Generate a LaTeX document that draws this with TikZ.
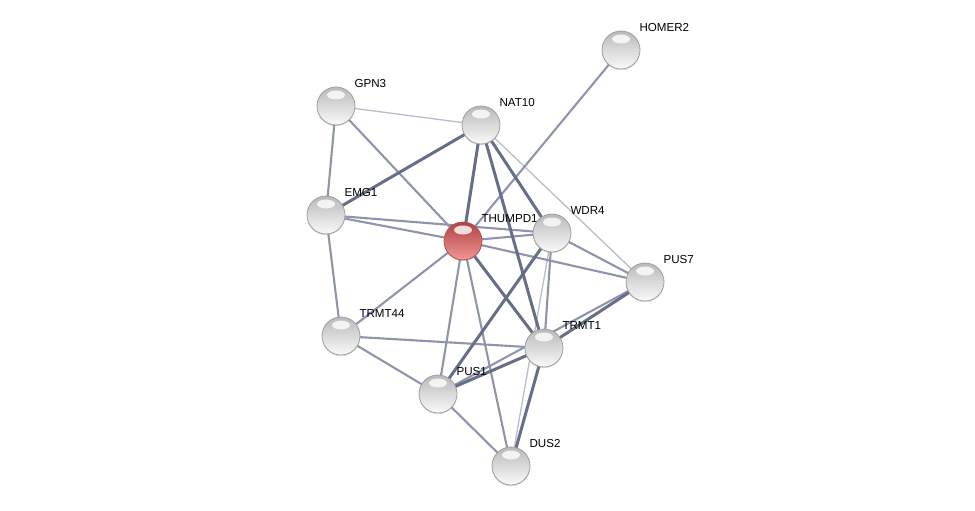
\documentclass[tikz,border=0pt]{standalone}
\usepackage{fontspec}
\setmainfont{Liberation Sans}
\usepackage{xcolor}
\usetikzlibrary{backgrounds, shadows}

\definecolor{edgethin}{RGB}{184,188,204}
\definecolor{edgemid}{RGB}{142,148,172}
\definecolor{edgethick}{RGB}{102,110,138}
\definecolor{redtop}{RGB}{176,66,66}
\definecolor{redmid}{RGB}{214,104,104}
\definecolor{redlow}{RGB}{242,150,150}

\begin{document}
\begin{tikzpicture}[
    x=1pt, y=-1pt,
    gene/.style = {
        circle,
        minimum size=38pt,
        inner sep=0pt,
        draw=gray!75,
        line width=0.8pt,
        top color=gray!55,
        middle color=gray!22,
        bottom color=gray!4,
        drop shadow={opacity=0.25, shadow xshift=0pt, shadow yshift=-1.2pt},
        path picture={
            \fill[white, opacity=0.8] ([yshift=11pt]path picture bounding box.center)
                ellipse (9pt and 4.5pt);
        }
    },
    seed/.style = {gene, draw=red!35!gray,
        top color=redtop, middle color=redmid, bottom color=redlow},
    lbl/.style = {font=\fontsize{11.6}{13}\selectfont, inner sep=0pt},
    tag/.style = {label={[lbl, label distance=6.5pt]above right:#1}},
    weak/.style = {line width=1.3pt, edgethin},
    mid/.style = {line width=2.1pt, edgemid},
    strong/.style = {line width=3pt, edgethick}
]
\useasboundingbox (0,0) rectangle (975,511);

%% Protein nodes
\node[gene, tag=HOMER2]  (homer2)  at (621,50)  {};
\node[gene, tag=GPN3]    (gpn3)    at (336,106) {};
\node[gene, tag=NAT10]   (nat10)   at (481,125) {};
\node[gene, tag=EMG1]    (emg1)    at (326,215) {};
\node[seed, tag=THUMPD1] (thumpd1) at (463,241) {};
\node[gene, tag=WDR4]    (wdr4)    at (552,233) {};
\node[gene, tag=PUS7]    (pus7)    at (645,282) {};
\node[gene, tag=TRMT44]  (trmt44)  at (341,336) {};
\node[gene, tag=TRMT1]   (trmt1)   at (544,348) {};
\node[gene, tag=PUS1]    (pus1)    at (438,394) {};
\node[gene, tag=DUS2]    (dus2)    at (511,466) {};

%% Interactions
\begin{pgfonlayer}{background}
\draw[weak] (gpn3.center) -- (nat10.center);
\draw[weak] (nat10.center) -- (pus7.center);
\draw[weak] (wdr4.center) -- (dus2.center);

\draw[mid] (homer2.center) -- (thumpd1.center);
\draw[mid] (gpn3.center) -- (emg1.center);
\draw[mid] (gpn3.center) -- (thumpd1.center);
\draw[mid] (emg1.center) -- (thumpd1.center);
\draw[mid] (emg1.center) -- (wdr4.center);
\draw[mid] (emg1.center) -- (trmt44.center);
\draw[mid] (thumpd1.center) -- (wdr4.center);
\draw[mid] (thumpd1.center) -- (pus7.center);
\draw[mid] (thumpd1.center) -- (trmt44.center);
\draw[mid] (thumpd1.center) -- (pus1.center);
\draw[mid] (thumpd1.center) -- (dus2.center);
\draw[mid] (wdr4.center) -- (pus7.center);
\draw[mid] (wdr4.center) -- (trmt1.center);
\draw[mid] (pus7.center) -- (pus1.center);
\draw[mid] (trmt44.center) -- (trmt1.center);
\draw[mid] (trmt44.center) -- (pus1.center);
\draw[mid] (pus1.center) -- (dus2.center);

\draw[strong] (nat10.center) -- (emg1.center);
\draw[strong] (nat10.center) -- (thumpd1.center);
\draw[strong] (nat10.center) -- (wdr4.center);
\draw[strong] (nat10.center) -- (trmt1.center);
\draw[strong] (thumpd1.center) -- (trmt1.center);
\draw[strong] (wdr4.center) -- (pus1.center);
\draw[strong] (pus7.center) -- (trmt1.center);
\draw[strong] (trmt1.center) -- (pus1.center);
\draw[strong] (trmt1.center) -- (dus2.center);
\end{pgfonlayer}

\end{tikzpicture}
\end{document}
